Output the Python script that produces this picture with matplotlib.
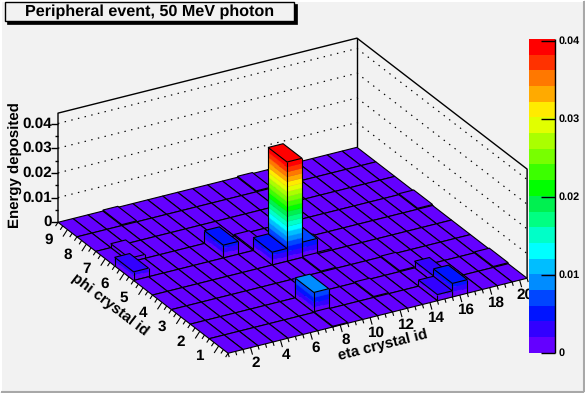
import matplotlib
matplotlib.use("Agg")
import matplotlib.pyplot as plt
from matplotlib.patches import Polygon, Rectangle

plt.rcParams["text.hinting"] = "no_hinting"

# bins with content, everything else in the 20x9 grid is empty
eta_ids = [10, 9, 11, 7, 1, 2, 4, 9, 8, 16, 15, 16, 15, 20, 20, 12, 8, 11, 13, 12]
phi_ids = [5, 5, 5, 6, 6, 7, 9, 6, 2, 1, 1, 2, 3, 6, 2, 2, 1, 4, 9, 5]
energies = [0.0402, 0.0052, 0.0062, 0.0052, 0.0035, 0.0016, 0.0004, 0.0006, 0.0081,
            0.0055, 0.0025, 0.0027, 0.0004, 0.0004, 0.0004, 0.0004, 0.0003, 0.0004,
            0.0004, 0.0006]

z_max = 0.0402
palette = ["#6400ff", "#3200ff", "#0014ff", "#0046ff", "#008cff", "#00beff", "#00ffff",
           "#00ffc8", "#00ff82", "#00f050", "#00ff00", "#3cff00", "#78ff00", "#aaff00",
           "#e1ff00", "#ffeb00", "#ffaa00", "#ff7800", "#ff3200", "#ff0000"]
z_ticks = [0, 0.01, 0.02, 0.03, 0.04]
z_tick_labels = ["0", "0.01", "0.02", "0.03", "0.04"]
eta_ticks = [2, 4, 6, 8, 10, 12, 14, 16, 18, 20]
phi_ticks = [1, 2, 3, 4, 5, 6, 7, 8, 9]

BG = "#f2f2f2"
FONT = "Liberation Sans"
LW = 0.8
level_step = z_max / len(palette)


def project(eta, phi, z=0.0):
    u = eta - 0.5
    v = 9.5 - phi
    return 58 + 14.95 * u + 18.9 * v, 222.3 + 14.55 * v - 3.75 * u - z * 2470


def band(z):
    return min(int(z / level_step), len(palette) - 1)


fig = plt.figure(figsize=(5.85, 3.93), dpi=100, facecolor=BG)
ax = fig.add_axes([0, 0, 1, 1])
ax.set_xlim(0, 585)
ax.set_ylim(393, 0)
ax.axis("off")


def line(pts, z=2, ls="-", lw=LW, c="k"):
    xs, ys = zip(*pts)
    ax.plot(xs, ys, color=c, lw=lw, ls=ls, zorder=z, solid_capstyle="butt")


# canvas border
line([(1, 392), (1, 1), (584, 1)], z=1, c="white", lw=1.5)
line([(1, 391.5), (584, 391.5)], z=1, c="#a8a8a8", lw=1.5)
line([(584, 391.5), (584, 1)], z=1, c="#a8a8a8", lw=1.5)

# back walls
eta_lo, eta_hi = 0.5, 20.5
phi_lo, phi_hi = 0.5, 9.5
z_top = 0.0442
line([project(eta_lo, phi_hi), project(eta_lo, phi_hi, z_top), project(eta_hi, phi_hi, z_top),
      project(eta_hi, phi_lo, z_top), project(eta_hi, phi_lo)], lw=1.0)
line([project(eta_hi, phi_hi), project(eta_hi, phi_hi, z_top)], lw=1.0)
for zt in z_ticks[1:]:
    line([project(eta_lo, phi_hi, zt), project(eta_hi, phi_hi, zt), project(eta_hi, phi_lo, zt)],
         ls=(0, (1.2, 4.6)), lw=0.85)

# lego, painted from the back corner to the front
heights = {(e, p): v for e, p, v in zip(eta_ids, phi_ids, energies)}
order = 3
for e in range(20, 0, -1):
    for p in range(9, 0, -1):
        z = heights.get((e, p), 0.0)
        e0, e1, p0, p1 = e - 0.5, e + 0.5, p - 0.5, p + 0.5
        for k in range(band(z) + 1):
            z0 = k * level_step
            z1 = min(z, (k + 1) * level_step)
            if z1 <= z0:
                continue
            col = palette[k]
            for a, b in [((e0, p1), (e0, p0)), ((e0, p0), (e1, p0))]:
                quad = [project(*a, z0), project(*b, z0), project(*b, z1), project(*a, z1)]
                ax.add_patch(Polygon(quad, closed=True, fc=col, ec=col, lw=0.3, zorder=order))
        top = [project(e0, p0, z), project(e1, p0, z), project(e1, p1, z), project(e0, p1, z)]
        ax.add_patch(Polygon(top, closed=True, fc=palette[band(z)], ec="k", lw=LW, zorder=order + 0.1))
        if z > 0:
            for a, b in [((e0, p1), (e0, p0)), ((e0, p0), (e1, p0))]:
                line([project(*a), project(*b)], z=order + 0.1)
            for a in [(e0, p1), (e0, p0), (e1, p0)]:
                line([project(*a), project(*a, z)], z=order + 0.1)
        order += 0.2

# phi axis: ticks and labels
zz = order + 1
for i in range(37):
    tick = phi_lo + 0.25 * i
    major = (tick * 4) % 4 == 0
    x, y = project(eta_lo, tick)
    d = 1.0 if major else 0.55
    line([(x, y), (x - 4.5 * d, y + 7 * d)], z=zz)
for p in phi_ticks:
    x, y = project(eta_lo, p)
    ax.text(x - 19, y + 10.5, str(p), family=FONT, weight="bold", fontsize=11, ha="center", va="center")

# eta axis
for i in range(41):
    tick = eta_lo + 0.5 * i
    major = tick % 2 == 0
    x, y = project(tick, phi_lo)
    d = 1.0 if major else 0.55
    line([(x, y), (x + 2 * d, y + 7 * d)], z=zz)
for e in eta_ticks:
    x, y = project(e, phi_lo)
    ax.text(x + 5.5, y + 15, str(e), family=FONT, weight="bold", fontsize=11, ha="center", va="center")

# z axis
for i in range(9):
    zt = 0.005 * i
    x, y = project(eta_lo, phi_hi, zt)
    major = i % 2 == 0
    line([(x, y), (x - (7 if major else 3.5), y)], z=zz, lw=1.0)
for zt, lab in zip(z_ticks, z_tick_labels):
    x, y = project(eta_lo, phi_hi, zt)
    ax.text(x - 6, y, lab, family=FONT, weight="bold", fontsize=11, ha="right", va="center")

# axis titles
ax.text(16, 165.5, "Energy deposited", rotation=90, family=FONT, weight="bold", fontsize=10.8,
        ha="center", va="center")
ax.text(110, 305, "phi crystal id", rotation=-37.5, family=FONT, weight="bold", fontsize=10.8,
        ha="center", va="center", rotation_mode="anchor")
ax.text(383, 345, "eta crystal id", rotation=14, family=FONT, weight="bold", fontsize=10.8,
        ha="center", va="center", rotation_mode="anchor")

# colour bar
bar_z = zz + 5
cb_x0, cb_x1 = 529, 555.3
cb_y0, cb_y1 = 352.7, 39
for k, col in enumerate(palette):
    y0 = cb_y0 + (cb_y1 - cb_y0) * k / len(palette)
    y1 = cb_y0 + (cb_y1 - cb_y0) * (k + 1) / len(palette)
    ax.add_patch(Rectangle((cb_x0, y1), cb_x1 - cb_x0, y0 - y1, fc=col, ec="none", zorder=bar_z))
line([(cb_x1, cb_y0), (cb_x1, cb_y1)], z=bar_z + 1, lw=1.0)
for zt, lab in zip(z_ticks, z_tick_labels):
    y = cb_y0 + (cb_y1 - cb_y0) * zt / z_max
    line([(cb_x1 - 14, y), (cb_x1, y)], z=bar_z + 1, lw=1.0)
    ax.text(cb_x1 + 3, y, lab, family=FONT, weight="bold", fontsize=7.8, ha="left", va="center",
            zorder=bar_z + 1)

# title box with its shadow
ax.add_patch(Rectangle((7, 4), 290, 20, fc="k", ec="k", lw=0.5, zorder=bar_z))
ax.add_patch(Rectangle((5, 1.5), 289, 19.5, fc=BG, ec="k", lw=1.0, zorder=bar_z + 1))
ax.text(149.5, 11.5, "Peripheral event, 50 MeV photon", family=FONT, weight="bold", fontsize=11.6,
        ha="center", va="center", zorder=bar_z + 2)

fig.savefig("out.png", dpi=100, facecolor=BG)
